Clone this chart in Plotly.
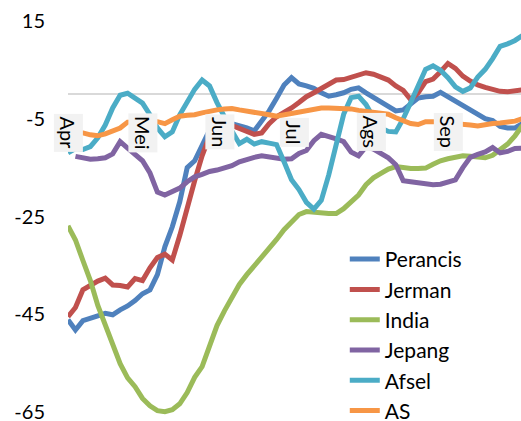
import pandas as pd
import plotly.graph_objects as go

# Sample dates: every third day from 1 April 2020
dates = pd.date_range("2020-04-01", periods=62, freq="3D")

perancis = [-46.1, -48.2, -46.3, -45.7, -45.3, -44.8, -45.1, -44.1, -43.3, -42.2,
            -40.8, -40.0, -36.9, -31.2, -27.1, -22.0, -15.0, -13.6, -10.7, -7.3,
            -6.0, -5.8, -6.0, -6.4, -6.9, -7.5, -5.6, -3.4, -0.8, 1.9,
            3.4, 2.1, 1.7, 1.2, 0.3, -0.4, -0.1, 0.3, 1.0, 1.3,
            0.3, -0.6, -1.5, -2.6, -3.4, -3.2, -2.1, -0.8, -0.5, -0.4,
            0.4, -0.5, -1.3, -2.1, -3.0, -4.1, -5.0, -5.4, -6.6, -6.9,
            -6.9, -6.0]

jerman = [-45.5, -43.6, -40.0, -39.0, -38.2, -37.6, -39.0, -39.1, -39.4, -37.7,
          -38.1, -35.5, -33.4, -32.7, -33.9, -28.9, -23.0, -17.7, -12.6, -8.5,
          -6.9, -6.4, -6.4, -7.0, -7.7, -8.2, -7.9, -6.0, -4.6, -3.8,
          -2.8, -1.7, -0.5, 0.3, 1.1, 2.1, 2.9, 3.0, 3.5, 4.0,
          4.4, 4.1, 3.5, 2.9, 1.7, 0.8, -1.1, 0.3, 2.6, 3.1,
          4.6, 6.3, 5.3, 3.7, 2.7, 1.9, 1.4, 1.0, 0.6, 0.5,
          0.6, 0.9]

india = [-26.9, -29.8, -34.0, -38.1, -43.2, -47.3, -51.2, -55.1, -58.0, -59.8,
         -62.2, -63.7, -64.7, -64.9, -64.5, -63.3, -61.0, -57.9, -55.7, -51.8,
         -47.3, -44.3, -41.4, -38.9, -36.9, -35.1, -33.6, -31.7, -29.7, -27.7,
         -26.1, -24.6, -24.0, -24.2, -24.2, -24.4, -24.4, -23.4, -22.0, -20.6,
         -18.5, -17.1, -16.2, -15.3, -14.8, -15.1, -15.2, -15.2, -15.1, -14.3,
         -13.6, -13.2, -12.8, -12.6, -12.7, -12.9, -13.0, -12.5, -11.5, -10.2,
         -8.5, -6.4]

jepang = [None, -12.7, -13.0, -13.3, -13.2, -13.0, -12.2, -9.7, -11.0, -12.2,
          -13.6, -16.1, -20.0, -20.6, -19.9, -19.2, -17.9, -16.9, -16.4, -15.8,
          -15.5, -15.1, -14.6, -13.8, -13.3, -12.9, -12.6, -12.9, -13.0, -13.3,
          -13.2, -12.1, -11.5, -9.5, -8.2, -8.6, -9.1, -9.7, -11.8, -12.6,
          -10.7, -11.2, -12.0, -13.0, -14.4, -17.7, -17.9, -18.1, -18.5, -18.5,
          -18.4, -18.0, -17.5, -15.0, -12.9, -12.3, -11.8, -10.9, -12.0, -11.7,
          -11.1, -11.0]

afsel = [-12.0, -11.1, -11.3, -10.7, -8.9, -6.3, -2.8, -0.2, 0.2, -0.9,
         -1.8, -4.2, -6.9, -8.7, -7.7, -4.2, -1.7, 1.0, 2.9, 1.7,
         -1.7, -4.8, -7.5, -10.1, -9.2, -10.2, -9.7, -10.0, -10.3, -13.8,
         -17.5, -19.5, -22.1, -23.5, -21.7, -16.5, -9.9, -4.1, -0.7, -0.4,
         -2.1, -4.8, -6.9, -7.6, -7.7, -5.0, -1.7, 1.9, 5.1, 5.8,
         4.9, 3.4, 1.5, 0.6, 1.3, 3.5, 5.1, 7.3, 9.8, 10.3,
         11.0, 12.0]

amerika = [-7.7, -7.8, -7.9, -8.3, -8.5, -8.1, -7.5, -6.9, -5.7, -5.6,
           -5.6, -5.6, -5.6, -6.0, -5.2, -4.5, -4.3, -4.2, -3.8, -3.4,
           -3.2, -3.0, -2.9, -3.2, -3.4, -3.7, -3.9, -4.2, -4.5, -4.2,
           -3.8, -3.5, -3.3, -3.1, -2.8, -2.8, -2.8, -2.8, -3.0, -3.3,
           -3.5, -3.7, -3.9, -4.1, -4.8, -5.5, -6.0, -6.2, -5.6, -5.6,
           -5.7, -5.9, -6.1, -6.2, -6.3, -6.5, -6.2, -6.0, -5.9, -5.7,
           -5.5, -5.0]

series_names = ["Perancis", "Jerman", "India", "Jepang", "Afsel", "AS"]
series_values = [perancis, jerman, india, jepang, afsel, amerika]
series_colors = ["#4F81BD", "#C0504D", "#9BBB59", "#8064A2", "#4BACC6", "#F79646"]

month_labels = ["Apr", "Mei", "Jun", "Jul", "Ags", "Sep"]
month_starts = ["2020-04-01", "2020-05-01", "2020-06-01",
                "2020-07-01", "2020-08-01", "2020-09-01"]

y_ticks = [15, -5, -25, -45, -65]

FONT = "Lato"

fig = go.Figure()
for name, vals, color in zip(series_names, series_values, series_colors):
    fig.add_trace(go.Scatter(
        x=dates, y=vals, mode="lines", name=name,
        line=dict(color=color, width=5),
        connectgaps=False,
    ))

# Month labels sit just under the zero line on a light box
for label, start in zip(month_labels, month_starts):
    fig.add_annotation(
        x=start, y=-7.8, xref="x", yref="y",
        text=label, textangle=90, showarrow=False,
        bgcolor="#f2f2f2", borderpad=2,
        font=dict(family=FONT, size=20, color="#000000"),
        xanchor="center", yanchor="middle",
    )

fig.update_layout(
    width=521, height=421,
    margin=dict(l=68, r=0, t=16, b=4, pad=0, autoexpand=False),
    paper_bgcolor="white", plot_bgcolor="white",
    font=dict(family=FONT, size=20, color="#000000"),
    showlegend=True,
    legend=dict(
        x=0.611, y=0.444, xanchor="left", yanchor="top",
        bgcolor="rgba(0,0,0,0)", borderwidth=0,
        font=dict(family=FONT, size=21, color="#000000"),
    ),
    xaxis=dict(
        type="date", range=["2020-04-01", "2020-09-30 10:00"],
        showticklabels=False, showgrid=False, zeroline=False, showline=False,
        ticks="",
    ),
    yaxis=dict(
        range=[-66, 16], tickmode="array", tickvals=y_ticks,
        ticktext=[str(v) for v in y_ticks],
        showgrid=False, showline=False, ticks="",
        zeroline=True, zerolinecolor="#d9d9d9", zerolinewidth=2,
        ticklabelstandoff=22, ticklabeloverflow="allow",
        tickfont=dict(family=FONT, size=20, color="#000000"),
    ),
)

fig.write_html("out.html", config={"displayModeBar": False})
